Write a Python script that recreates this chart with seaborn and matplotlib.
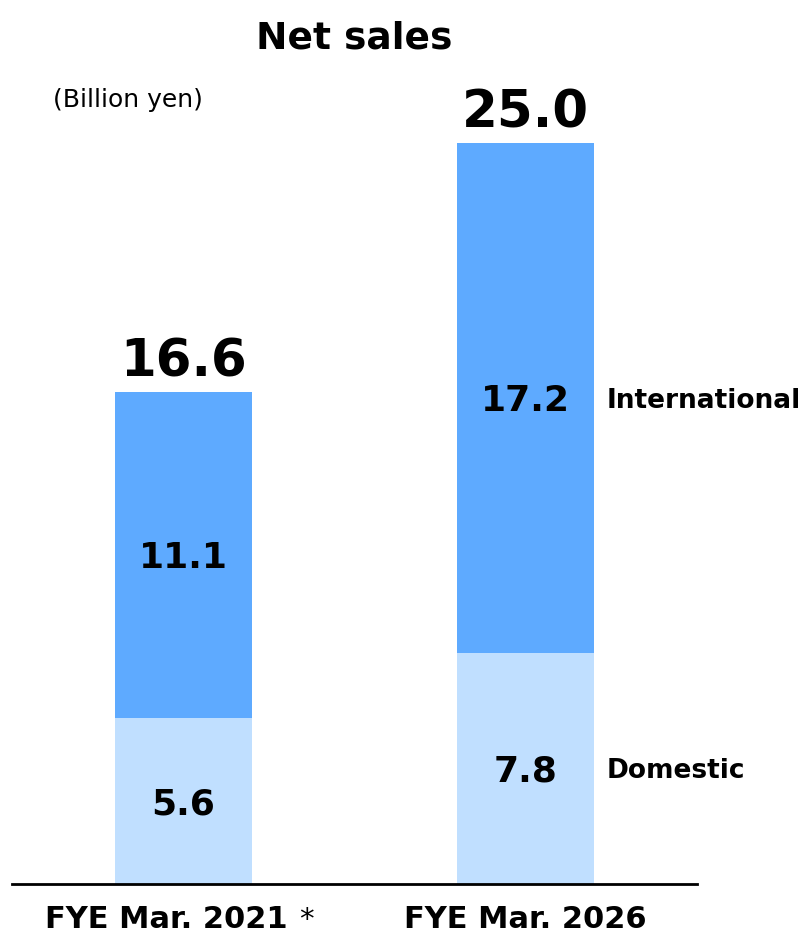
import matplotlib
matplotlib.use("Agg")
import matplotlib.pyplot as plt
from matplotlib.transforms import ScaledTranslation
import pandas as pd
import seaborn as sns

# Net sales by fiscal year (billion yen)
categories = ["FYE Mar. 2021", "FYE Mar. 2026"]
totals = [16.6, 25.0]
domestic = [5.6, 7.8]
international = [11.1, 17.2]
segment_names = ["International", "Domestic"]

INTL_COLOR = "#5EAAFF"
DOM_COLOR = "#C0DFFF"

sns.set_theme(style="white")
plt.rcParams["font.family"] = ["DejaVu Sans"]

df = pd.DataFrame({"category": categories, "total": totals,
                   "domestic": domestic, "international": international})

fig = plt.figure(figsize=(8.05, 9.36), dpi=100)
ax = fig.add_axes([12 / 805, 52 / 936, 685 / 805, 824 / 936])

# Full-height bars in the international colour, domestic part drawn over the base
sns.barplot(data=df, x="category", y="total", color=INTL_COLOR, saturation=1,
            width=0.4, linewidth=0, ax=ax)
sns.barplot(data=df, x="category", y="domestic", color=DOM_COLOR, saturation=1,
            width=0.4, linewidth=0, ax=ax)

ax.set_xlim(-0.5, 1.5)
ax.set_ylim(0, 27.8)
ax.set_xlabel("")
ax.set_ylabel("")
ax.set_yticks([])
for s in ["left", "top", "right"]:
    ax.spines[s].set_visible(False)
ax.spines["bottom"].set_color("black")
ax.spines["bottom"].set_linewidth(2.0)

ax.tick_params(axis="x", length=0, pad=15)
ax.set_xticks(range(len(categories)))
ax.set_xticklabels(categories, fontsize=22, fontweight="bold", color="black")

# First category carries a footnote marker; shift it so label + marker stay centred
first = ax.get_xticklabels()[0]
first.set_transform(first.get_transform() + ScaledTranslation(-12 / 72, 0, fig.dpi_scale_trans))
ax.annotate("*", xy=(1, 1), xycoords=first, xytext=(8, -1), textcoords="offset points",
            ha="left", va="top", fontsize=21, color="black")

half_w = 0.2
seg_fs = 26
side_fs = 19
for i in range(len(categories)):
    # total above the bar
    ax.annotate(f"{totals[i]:.1f}", xy=(i, totals[i]), xytext=(0, 11),
                textcoords="offset points", ha="center", va="baseline",
                fontsize=37, fontweight="bold", color="black")
    # segment values at segment centres
    intl_mid = (domestic[i] + totals[i]) / 2
    dom_mid = domestic[i] / 2
    ax.annotate(f"{international[i]:.1f}", xy=(i, intl_mid),
                xytext=(0, -0.729 * seg_fs / 2), textcoords="offset points",
                ha="center", va="baseline", fontsize=seg_fs, fontweight="bold",
                color="black")
    ax.annotate(f"{domestic[i]:.1f}", xy=(i, dom_mid),
                xytext=(0, -0.729 * seg_fs / 2), textcoords="offset points",
                ha="center", va="baseline", fontsize=seg_fs, fontweight="bold",
                color="black")

# Segment names beside the last bar
last = len(categories) - 1
ax.annotate(segment_names[0], xy=(last + half_w, (domestic[last] + totals[last]) / 2),
            xytext=(9, -0.729 * side_fs / 2), textcoords="offset points",
            ha="left", va="baseline", fontsize=side_fs, fontweight="bold", color="black")
ax.annotate(segment_names[1], xy=(last + half_w, domestic[last] / 2),
            xytext=(9, -0.729 * side_fs / 2), textcoords="offset points",
            ha="left", va="baseline", fontsize=side_fs, fontweight="bold", color="black")

ax.set_title("Net sales", fontsize=27, fontweight="bold", color="black", pad=8)
fig.text(53 / 805, 1 - 107 / 936, "(Billion yen)", ha="left", va="baseline",
         fontsize=18, color="black")

fig.savefig("out.png", dpi=100, facecolor="white")
